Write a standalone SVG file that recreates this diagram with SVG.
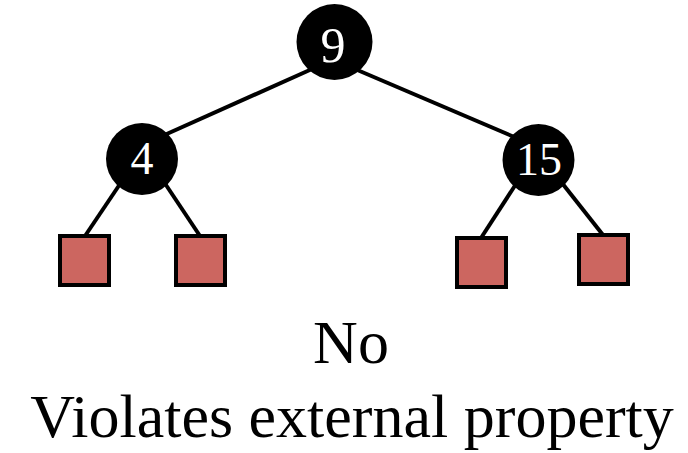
<svg xmlns="http://www.w3.org/2000/svg" width="688" height="453" viewBox="0 0 688 453">
  <style>
    .edge { stroke: #000; stroke-width: 4; stroke-linecap: butt; fill: none; }
    .inner { fill: #000; }
    .ext { fill: #CC6660; stroke: #000; stroke-width: 4; }
    .key { fill: #fff; font-family: "Liberation Serif", "Times New Roman", serif; text-anchor: middle; }
    .caption { fill: #000; font-family: "Liberation Serif", "Times New Roman", serif; font-size: 62px; text-anchor: middle; }
  </style>
  <rect width="688" height="453" fill="#fff"/>

  <!-- connectors -->
  <g id="edges">
    <line class="edge" x1="312" y1="69" x2="160" y2="137"/>
    <line class="edge" x1="355" y1="69" x2="519" y2="139"/>
    <line class="edge" x1="120" y1="184" x2="85" y2="236"/>
    <line class="edge" x1="164" y1="182" x2="200" y2="236"/>
    <line class="edge" x1="516" y1="184" x2="481" y2="238"/>
    <line class="edge" x1="562" y1="183" x2="603" y2="235"/>
  </g>

  <!-- internal nodes -->
  <g id="node-9">
    <circle class="inner" cx="334.5" cy="42" r="38"/>
    <text class="key" x="333" y="62" font-size="50">9</text>
  </g>
  <g id="node-4">
    <circle class="inner" cx="142" cy="159" r="36"/>
    <text class="key" x="142" y="174" font-size="46">4</text>
  </g>
  <g id="node-15">
    <circle class="inner" cx="538.5" cy="160" r="36"/>
    <text class="key" x="539" y="175" font-size="46">15</text>
  </g>

  <!-- external (leaf) nodes -->
  <g id="leaf-1"><rect class="ext" x="60" y="236" width="49" height="49"/></g>
  <g id="leaf-2"><rect class="ext" x="176" y="236" width="49" height="49"/></g>
  <g id="leaf-3"><rect class="ext" x="457" y="238" width="49" height="49"/></g>
  <g id="leaf-4"><rect class="ext" x="579" y="235" width="49" height="49"/></g>

  <!-- caption -->
  <text class="caption" x="351" y="363">No</text>
  <text class="caption" x="352" y="437">Violates external property</text>
</svg>
